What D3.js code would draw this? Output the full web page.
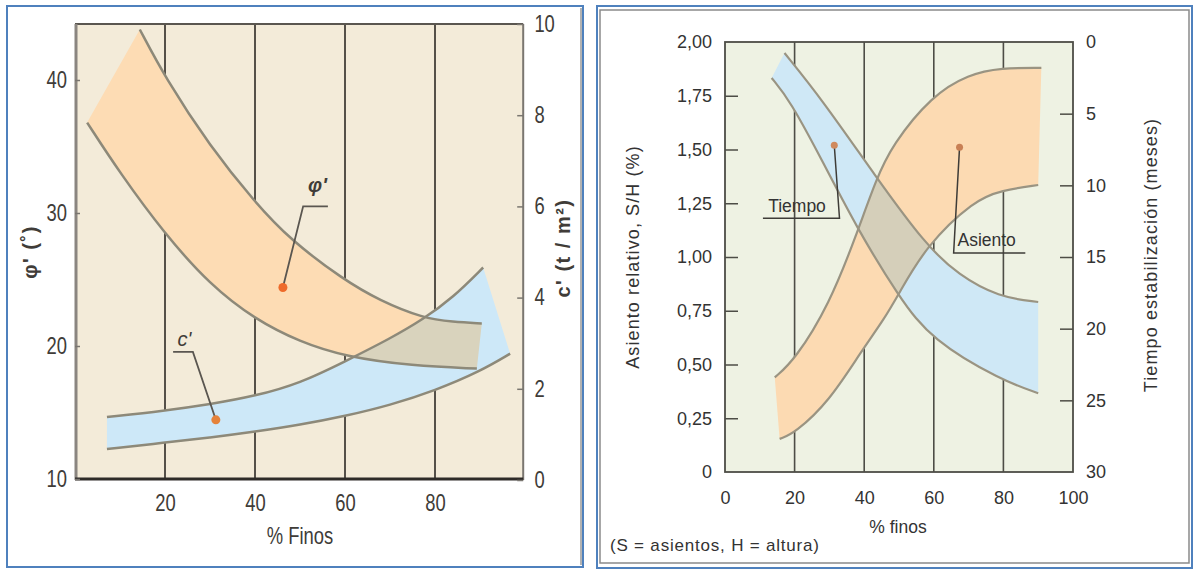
<!DOCTYPE html>
<html>
<head>
<meta charset="utf-8">
<script src="https://cdn.jsdelivr.net/npm/d3@7"></script>
<style>
  body { margin: 0; background: #fff; }
  svg text { font-family: "Liberation Sans", Arial, sans-serif; }
</style>
</head>
<body>
<script>
// ---- left chart: phi' and c' vs % finos ----
const leftXTicks = [20, 40, 60, 80];
const phiTicks = [10, 20, 30, 40];
const cTicks = [0, 2, 4, 6, 8, 10];

const phiUpper = [[14.4, 43.8], [20, 40.2], [30, 35.0], [40, 30.8], [47.8, 28.0], [59.6, 25.0], [67.8, 23.4], [77.3, 22.1], [84, 21.8], [90.4, 21.7]];
const phiLower = [[2.7, 36.8], [10, 33.0], [20, 28.4], [30, 24.6], [40, 22.0], [50, 20.3], [60, 19.2], [75, 18.5], [89.3, 18.3]];
const cUpper = [[7.1, 1.38], [20, 1.52], [30, 1.66], [40, 1.84], [50, 2.12], [60, 2.6], [70, 3.1], [77.3, 3.52], [84, 4.0], [90.7, 4.66]];
const cLower = [[7.1, 0.68], [20, 0.82], [30, 0.93], [40, 1.06], [50, 1.21], [60, 1.4], [70, 1.64], [80, 1.96], [90, 2.38], [96.7, 2.77]];
const phiDot = [46.2, 24.4];
const cDot = [31.3, 1.32];

// ---- right chart: asiento and tiempo vs % finos ----
const rightXTicks = [0, 20, 40, 60, 80, 100];
const asientoTicks = [0, 0.25, 0.5, 0.75, 1, 1.25, 1.5, 1.75, 2];
const tiempoTicks = [0, 5, 10, 15, 20, 25, 30];

const tiempoUpper = [[17.1, 0.77], [28, 4.05], [43.4, 9.42], [57.7, 14.16], [67.1, 16.26], [78.6, 17.8], [90, 18.14]];
const tiempoLower = [[13.4, 2.51], [18.6, 4.05], [28, 8.3], [37.7, 12.9], [50, 17.8], [59.4, 20.8], [79.4, 23.6], [90, 24.5]];
const asientoUpper = [[14.3, 0.44], [20, 0.52], [30, 0.78], [37.7, 1.1], [43.4, 1.36], [48, 1.52], [59.4, 1.75], [70, 1.85], [79.4, 1.88], [90.9, 1.88]];
const asientoLower = [[15.7, 0.154], [20, 0.18], [30, 0.33], [39.1, 0.56], [45.7, 0.71], [50, 0.83], [57.7, 1.05], [71.7, 1.265], [79.4, 1.31], [90, 1.335]];
const tiempoDot = [31.4, 7.2];
const asientoDot = [67.4, 1.51];

const svg = d3.select("body").append("svg")
    .attr("width", 1193)
    .attr("height", 569);

// builds a closed band out of two boundary curves
function bandPath(line, upper, lower) {
    const a = line(upper);
    const b = line(lower.slice().reverse());
    return a + "L" + b.slice(1) + "Z";
}

// ================= LEFT PANEL =================
const lx = d3.scaleLinear().domain([0, 100]).range([75, 525]);
const lphi = d3.scaleLinear().domain([10, 40]).range([479, 80]);
const lc = d3.scaleLinear().domain([0, 10]).range([480, 24]);

svg.append("rect").attr("x", 7).attr("y", 6).attr("width", 576).attr("height", 561)
    .attr("fill", "#fff").attr("stroke", "#4f81bd").attr("stroke-width", 2);
svg.append("line").attr("x1", 581).attr("x2", 581).attr("y1", 8).attr("y2", 565)
    .attr("stroke", "#9a9a9a").attr("stroke-width", 1.5);

const left = svg.append("g");
left.append("rect").attr("x", lx(0)).attr("y", lc(10)).attr("width", lx(99.6) - lx(0)).attr("height", lc(0) - lc(10))
    .attr("fill", "#f3ebd9");

left.selectAll(".grid").data(leftXTicks).enter().append("line")
    .attr("x1", d => lx(d)).attr("x2", d => lx(d))
    .attr("y1", lc(10)).attr("y2", lc(0))
    .attr("stroke", "#555049").attr("stroke-width", 2);

const phiLine = d3.line().x(d => lx(d[0])).y(d => lphi(d[1])).curve(d3.curveBasis);
const cLine = d3.line().x(d => lx(d[0])).y(d => lc(d[1])).curve(d3.curveBasis);

const phiBand = bandPath(phiLine, phiUpper, phiLower);
const cBand = bandPath(cLine, cUpper, cLower);

left.append("path").attr("d", phiBand).attr("fill", "#fddcb4");
left.append("path").attr("d", cBand).attr("fill", "#cde8f8");
svg.append("clipPath").attr("id", "phiClip").append("path").attr("d", phiBand);
left.append("path").attr("d", cBand).attr("fill", "#d9d3bd").attr("clip-path", "url(#phiClip)");

[[phiLine, phiUpper], [phiLine, phiLower], [cLine, cUpper], [cLine, cLower]].forEach(function(p) {
    left.append("path").attr("d", p[0](p[1]))
        .attr("fill", "none").attr("stroke", "#8d8979").attr("stroke-width", 2.5);
});

// frame
left.append("line").attr("x1", lx(0)).attr("x2", lx(99.6)).attr("y1", lc(10)).attr("y2", lc(10))
    .attr("stroke", "#5a5650").attr("stroke-width", 2);
left.append("line").attr("x1", lx(99.6)).attr("x2", lx(99.6)).attr("y1", lc(10)).attr("y2", lc(0))
    .attr("stroke", "#7a7670").attr("stroke-width", 2);
left.append("line").attr("x1", lx(0) + 1).attr("x2", lx(0) + 1).attr("y1", lc(10)).attr("y2", lc(0))
    .attr("stroke", "#8a8580").attr("stroke-width", 3);
left.append("line").attr("x1", lx(0)).attr("x2", lx(99.6)).attr("y1", lphi(10)).attr("y2", lphi(10))
    .attr("stroke", "#2e2b28").attr("stroke-width", 3);

// annotations
const lAxisText = "#403c38";
const phiDotPx = [lx(phiDot[0]), lphi(phiDot[1])];
left.append("polyline")
    .attr("points", [[lx(56.2), lphi(30.5)], [lx(50.7), lphi(30.5)], phiDotPx].join(" "))
    .attr("fill", "none").attr("stroke", "#5a5650").attr("stroke-width", 1.8);
left.append("text").attr("x", lx(51.8)).attr("y", lphi(31.6))
    .attr("font-size", 20).attr("font-style", "italic").attr("font-weight", "bold").attr("fill", lAxisText)
    .text("φ'");
const cDotPx = [lx(cDot[0]), lc(cDot[1])];
left.append("polyline")
    .attr("points", [[lx(21.8), lc(2.81)], [lx(26.2), lc(2.81)], cDotPx].join(" "))
    .attr("fill", "none").attr("stroke", "#5a5650").attr("stroke-width", 1.8);
left.append("text").attr("x", lx(22.8)).attr("y", lc(2.94))
    .attr("font-size", 20).attr("font-style", "italic").attr("fill", lAxisText)
    .text("c'");
left.append("circle").attr("cx", phiDotPx[0]).attr("cy", phiDotPx[1]).attr("r", 4.5).attr("fill", "#ee6a2a");
left.append("circle").attr("cx", cDotPx[0]).attr("cy", cDotPx[1]).attr("r", 4.5).attr("fill", "#e5823a");

// axes (narrow lettering, as in the original figure)
const narrow = "scale(0.8,1)";
const lxAxis = left.append("g").attr("transform", "translate(0," + lphi(10) + ")")
    .call(d3.axisBottom(lx).tickValues(leftXTicks).tickSize(0).tickPadding(16));
const lyAxis = left.append("g").attr("transform", "translate(" + lx(0) + ",0)")
    .call(d3.axisLeft(lphi).tickValues(phiTicks).tickSize(-5).tickPadding(10));
const lcAxis = left.append("g").attr("transform", "translate(" + lx(99.6) + ",0)")
    .call(d3.axisRight(lc).tickValues(cTicks).tickSize(-6).tickPadding(14));
[lxAxis, lyAxis, lcAxis].forEach(function(a) {
    a.select(".domain").remove();
    a.selectAll(".tick line").attr("stroke", "#7a7670").attr("stroke-width", 1.5);
    a.selectAll("text").attr("font-size", 23).attr("fill", lAxisText).attr("transform", narrow)
        .style("font-family", "\"Liberation Sans\", Arial, sans-serif");
});

left.append("text").attr("transform", "translate(300,544) " + narrow).attr("text-anchor", "middle")
    .attr("font-size", 23).attr("fill", lAxisText).text("% Finos");
left.append("text").attr("transform", "translate(37,252) rotate(-90)").attr("text-anchor", "middle")
    .attr("font-size", 20).attr("font-weight", "bold").attr("letter-spacing", 1.5).attr("fill", lAxisText).text("φ' (˚)");
left.append("text").attr("transform", "translate(570,248) rotate(-90)").attr("text-anchor", "middle")
    .attr("font-size", 20).attr("font-weight", "bold").attr("letter-spacing", 1.5).attr("fill", lAxisText).text("c' (t / m²)");

// ================= RIGHT PANEL =================
const rx = d3.scaleLinear().domain([0, 100]).range([725, 1073]);
const rs = d3.scaleLinear().domain([0, 2]).range([472, 42]);
const rt = d3.scaleLinear().domain([0, 30]).range([42, 472]);

svg.append("rect").attr("x", 597).attr("y", 6).attr("width", 595).attr("height", 562)
    .attr("fill", "#fff").attr("stroke", "#4f81bd").attr("stroke-width", 2);
svg.append("rect").attr("x", 600).attr("y", 10).attr("width", 589).attr("height", 553)
    .attr("fill", "#fff").attr("stroke", "#8a8a8a").attr("stroke-width", 1.5);

const right = svg.append("g");
right.append("rect").attr("x", rx(0)).attr("y", rs(2)).attr("width", rx(100) - rx(0)).attr("height", rs(0) - rs(2))
    .attr("fill", "#eef2e3");
right.selectAll(".grid").data([20, 40, 60, 80]).enter().append("line")
    .attr("x1", d => rx(d)).attr("x2", d => rx(d))
    .attr("y1", rs(2)).attr("y2", rs(0))
    .attr("stroke", "#4d4d46").attr("stroke-width", 1.6);

const sLine = d3.line().x(d => rx(d[0])).y(d => rs(d[1])).curve(d3.curveBasis);
const tLine = d3.line().x(d => rx(d[0])).y(d => rt(d[1])).curve(d3.curveBasis);
const sBand = bandPath(sLine, asientoUpper, asientoLower);
const tBand = bandPath(tLine, tiempoUpper, tiempoLower);

right.append("path").attr("d", sBand).attr("fill", "#fcdab2");
right.append("path").attr("d", tBand).attr("fill", "#cfe8f6");
svg.append("clipPath").attr("id", "sClip").append("path").attr("d", sBand);
right.append("path").attr("d", tBand).attr("fill", "#d5cfba").attr("clip-path", "url(#sClip)");

[[sLine, asientoUpper], [sLine, asientoLower], [tLine, tiempoUpper], [tLine, tiempoLower]].forEach(function(p) {
    right.append("path").attr("d", p[0](p[1]))
        .attr("fill", "none").attr("stroke", "#9a9482").attr("stroke-width", 2.2);
});

right.append("rect").attr("x", rx(0)).attr("y", rs(2)).attr("width", rx(100) - rx(0)).attr("height", rs(0) - rs(2))
    .attr("fill", "none").attr("stroke", "#4d4d46").attr("stroke-width", 1.8);

// annotations
const tDotPx = [rx(tiempoDot[0]), rt(tiempoDot[1])];
right.append("polyline")
    .attr("points", [[rx(10.9), rt(12.3)], [rx(32.9), rt(12.3)], tDotPx].join(" "))
    .attr("fill", "none").attr("stroke", "#3e3c38").attr("stroke-width", 1.5);
right.append("text").attr("x", rx(12.4)).attr("y", rt(11.85))
    .attr("font-size", 17.5).attr("fill", "#333").text("Tiempo");
const sDotPx = [rx(asientoDot[0]), rs(asientoDot[1])];
right.append("polyline")
    .attr("points", [sDotPx, [rx(65.7), rs(1.019)], [rx(86.3), rs(1.019)]].join(" "))
    .attr("fill", "none").attr("stroke", "#3e3c38").attr("stroke-width", 1.5);
right.append("text").attr("x", rx(66.8)).attr("y", rs(1.05))
    .attr("font-size", 17.5).attr("fill", "#333").text("Asiento");
right.append("circle").attr("cx", tDotPx[0]).attr("cy", tDotPx[1]).attr("r", 3.5).attr("fill", "#d08a5e");
right.append("circle").attr("cx", sDotPx[0]).attr("cy", sDotPx[1]).attr("r", 3.5).attr("fill", "#c88055");

// axes
const comma = d => d === 0 ? "0" : d3.format(".2f")(d).replace(".", ",");
const rxAxis = right.append("g").attr("transform", "translate(0," + rs(0) + ")")
    .call(d3.axisBottom(rx).tickValues(rightXTicks).tickSize(0).tickPadding(19));
const rsAxis = right.append("g").attr("transform", "translate(" + rx(0) + ",0)")
    .call(d3.axisLeft(rs).tickValues(asientoTicks).tickFormat(comma).tickSize(-13).tickPadding(13));
const rtAxis = right.append("g").attr("transform", "translate(" + rx(100) + ",0)")
    .call(d3.axisRight(rt).tickValues(tiempoTicks).tickSize(-13).tickPadding(13));
[rxAxis, rsAxis, rtAxis].forEach(function(a) {
    a.select(".domain").remove();
    a.selectAll(".tick line").attr("stroke", "#4d4d46").attr("stroke-width", 1.5);
    a.selectAll("text").attr("font-size", 18).attr("fill", "#333")
        .style("font-family", "\"Liberation Sans\", Arial, sans-serif");
});
rsAxis.selectAll(".tick").filter(d => d === 0 || d === 2).select("line").remove();
rtAxis.selectAll(".tick").filter(d => d === 0 || d === 30).select("line").remove();

right.append("text").attr("x", 898).attr("y", 533).attr("text-anchor", "middle")
    .attr("font-size", 17.5).attr("fill", "#333")
    .text("% finos");
right.append("text").attr("x", 610).attr("y", 551)
    .attr("font-size", 17).attr("fill", "#333").attr("letter-spacing", 0.8)
    .text("(S = asientos, H = altura)");
right.append("text").attr("transform", "translate(639,257) rotate(-90)").attr("text-anchor", "middle")
    .attr("font-size", 18).attr("fill", "#333").attr("letter-spacing", 1.1)
    .text("Asiento relativo, S/H (%)");
right.append("text").attr("transform", "translate(1157,255) rotate(-90)").attr("text-anchor", "middle")
    .attr("font-size", 18).attr("fill", "#333").attr("letter-spacing", 1.1)
    .text("Tiempo estabilización (meses)");
</script>
</body>
</html>
